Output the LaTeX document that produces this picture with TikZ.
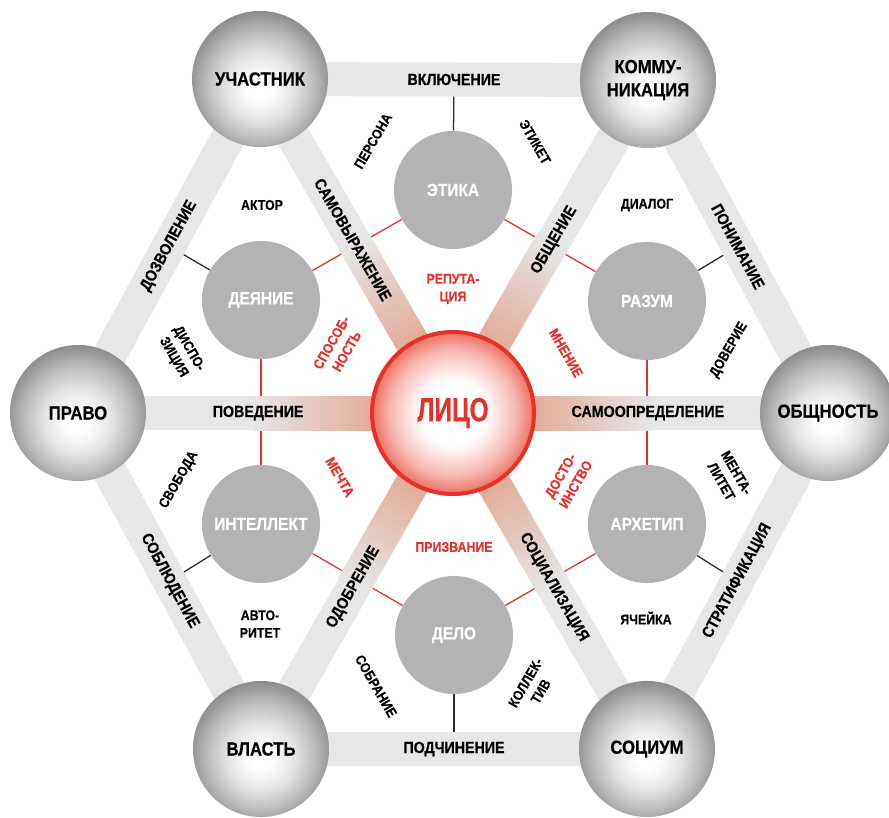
\documentclass[tikz,border=0pt]{standalone}
\usepackage{fontspec}
\setmainfont{Liberation Sans}[FakeStretch=0.88,BoldFeatures={FakeBold=0.5}]
\newfontfamily\facefont{Liberation Sans}[FakeStretch=0.72,BoldFeatures={FakeBold=0.4}]
\usetikzlibrary{calc}
\definecolor{BandGray}{HTML}{E6E7E8}
\definecolor{InnerGray}{HTML}{B3B3B3}
\definecolor{FaceRed}{HTML}{E8302A}
\definecolor{FaceEdge}{HTML}{EC5646}
\definecolor{Salmon}{HTML}{E2A691}
\definecolor{StubBlack}{HTML}{2B2B2B}
\definecolor{BallMid}{HTML}{B4B4B4}
\definecolor{BallEdge}{HTML}{8A8A8A}

% the node's circle spans 25bp of radius in these shadings
\pgfdeclareradialshading{outerball}{\pgfpoint{0bp}{-4bp}}{%
  color(0bp)=(white); color(4bp)=(white); color(13bp)=(BallMid!40!white);
  color(21bp)=(BallMid); color(27bp)=(BallEdge); color(50bp)=(BallEdge)}
\pgfdeclareradialshading{faceball}{\pgfpoint{0bp}{0bp}}{%
  color(0bp)=(white); color(10bp)=(white); color(19bp)=(FaceEdge!40!white);
  color(25bp)=(FaceEdge!85!white); color(50bp)=(FaceEdge!85!white)}
\pgfdeclarelayer{lines}
\pgfdeclarelayer{bands}
\pgfsetlayers{lines,bands,main}

\tikzset{
  bigcircle/.style={circle,minimum size=3.4cm,inner sep=0pt,shade,shading=outerball,
    align=center,font=\bfseries\fontsize{13.5}{16.5}\selectfont},
  smallcircle/.style={circle,minimum size=2.95cm,inner sep=0pt,fill=InnerGray,
    text=white,font=\bfseries\fontsize{12.5}{14}\selectfont},
  facecircle/.style={circle,minimum size=4.05cm,inner sep=0pt,shade,shading=faceball,
    draw=FaceRed,line width=0.1cm,text=FaceRed,font=\facefont\bfseries\fontsize{24}{26}\selectfont},
  band/.style={draw=BandGray,line width=0.85cm},
  bandlabel/.style={midway,sloped,font=\bfseries\fontsize{11.5}{13}\selectfont},
  note/.style={align=center,font=\bfseries\fontsize{10}{12.5}\selectfont},
  rednote/.style={note,text=FaceRed},
  redlink/.style={draw=FaceRed,line width=0.9pt},
  stub/.style={draw=StubBlack,line width=0.9pt}
}

\begin{document}
\begin{tikzpicture}[x=0.025cm,y=0.025cm]
  \useasboundingbox (-453,-404) rectangle (436,413);

  % outer ring
  \node[bigcircle] (uch) at (-193,334) {УЧАСТНИК};
  \node[bigcircle] (kom) at (195,333) {КОММУ-\\НИКАЦИЯ};
  \node[bigcircle] (pra) at (-375,0) {ПРАВО};
  \node[bigcircle] (obs) at (375,0) {ОБЩНОСТЬ};
  \node[bigcircle] (vla) at (-192,-336) {ВЛАСТЬ};
  \node[bigcircle] (soc) at (194,-336) {СОЦИУМ};

  % inner ring
  \node[smallcircle] (eti) at (0,223) {ЭТИКА};
  \node[smallcircle] (dey) at (-192,113) {ДЕЯНИЕ};
  \node[smallcircle] (raz) at (194,112) {РАЗУМ};
  \node[smallcircle] (int) at (-192,-111) {ИНТЕЛЛЕКТ};
  \node[smallcircle] (arh) at (194,-111) {АРХЕТИП};
  \node[smallcircle] (del) at (1,-222) {ДЕЛО};

  \node[facecircle] (lico) at (0,0) {ЛИЦО};

  \begin{pgfonlayer}{bands}
    \foreach \o/\a in {uch/120,kom/60,pra/180,obs/0,vla/240,soc/300}{
      \draw[band] (lico.center) -- (\o.center);
      \begin{scope}[transform canvas={rotate=\a}]
        \shade[left color=Salmon,right color=BandGray] (70,-17) rectangle (200,17);
      \end{scope}
    }
    \draw[band] (uch.center) -- (kom.center) -- (obs.center) -- (soc.center)
      -- (vla.center) -- (pra.center) -- cycle;
  \end{pgfonlayer}

  \begin{pgfonlayer}{lines}
    \foreach \a/\b in {eti/dey,dey/int,int/del,del/arh,arh/raz,raz/eti}
      \draw[redlink] (\a) -- (\b);
    \foreach \n/\p/\q in {eti/uch/kom,dey/pra/uch,int/pra/vla,del/vla/soc,arh/obs/soc,raz/kom/obs}{
      \coordinate (m\n) at ($(\p)!0.5!(\q)$);
      \draw[stub] (\n) -- (m\n);
    }
  \end{pgfonlayer}

  % band labels
  \path (uch) -- (kom) node[bandlabel] (bVkl) {ВКЛЮЧЕНИЕ};
  \path (kom) -- (obs) node[bandlabel] (bPon) {ПОНИМАНИЕ};
  \path (obs) -- (soc) node[bandlabel] (bStr) {СТРАТИФИКАЦИЯ};
  \path (vla) -- (soc) node[bandlabel] (bPod) {ПОДЧИНЕНИЕ};
  \path (vla) -- (pra) node[bandlabel] (bSob) {СОБЛЮДЕНИЕ};
  \path (pra) -- (uch) node[bandlabel] (bDoz) {ДОЗВОЛЕНИЕ};
  \path (lico) -- (uch) node[bandlabel] (bSvy) {САМОВЫРАЖЕНИЕ};
  \path (lico) -- (kom) node[bandlabel] (bObs) {ОБЩЕНИЕ};
  \path (lico) -- (pra) node[bandlabel] (bPov) {ПОВЕДЕНИЕ};
  \path (lico) -- (obs) node[bandlabel] (bSam) {САМООПРЕДЕЛЕНИЕ};
  \path (lico) -- (vla) node[bandlabel] (bOdo) {ОДОБРЕНИЕ};
  \path (lico) -- (soc) node[bandlabel] (bSoc) {СОЦИАЛИЗАЦИЯ};

  % outer triangles
  \node[note,rotate=60] (tPer) at (-80,272) {ПЕРСОНА};
  \node[note,rotate=-60] (tEti) at (82,271) {ЭТИКЕТ};
  \node[note] (tAkt) at (-191,208) {АКТОР};
  \node[note] (tDia) at (194,208) {ДИАЛОГ};
  \node[note,rotate=-60] (tDis) at (-272,60) {ДИСПО-\\ЗИЦИЯ};
  \node[note,rotate=60] (tDov) at (276,63) {ДОВЕРИЕ};
  \node[note,rotate=60] (tSvo) at (-274,-67) {СВОБОДА};
  \node[note,rotate=-60] (tMen) at (276,-64) {МЕНТА-\\ЛИТЕТ};
  \node[note] (tAvt) at (-193,-211) {АВТО-\\РИТЕТ};
  \node[note] (tYac) at (193,-205) {ЯЧЕЙКА};
  \node[note,rotate=-60] (tSob) at (-77,-273) {СОБРАНИЕ};
  \node[note,rotate=60] (tKol) at (80,-274) {КОЛЛЕК-\\ТИВ};

  % inner triangles
  \node[rednote] (rRep) at (0,124) {РЕПУТА-\\ЦИЯ};
  \node[rednote,rotate=60] (rSpo) at (-114,66) {СПОСОБ-\\НОСТЬ};
  \node[rednote,rotate=-60] (rMne) at (113,60) {МНЕНИЕ};
  \node[rednote,rotate=-60] (rMec) at (-113,-64) {МЕЧТА};
  \node[rednote,rotate=60] (rDos) at (115,-67) {ДОСТО-\\ИНСТВО};
  \node[rednote] (rPri) at (1,-134) {ПРИЗВАНИЕ};
\end{tikzpicture}
\end{document}
